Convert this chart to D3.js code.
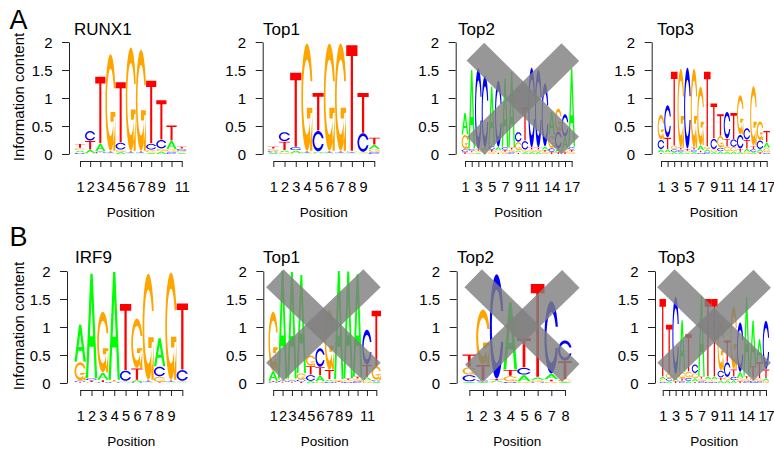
<!DOCTYPE html>
<html>
<head>
<meta charset="utf-8">
<script src="https://cdn.jsdelivr.net/npm/d3@7"></script>
<style>
  html, body { margin: 0; padding: 0; background: #ffffff; }
  svg { display: block; font-family: "Liberation Sans", Arial, Helvetica, sans-serif; }
</style>
</head>
<body>
<svg id="chart" width="774" height="451"></svg>
<script>
// Letter heights in bits for every motif position, columns in the order A, C, G, T.
const bases = ["A", "C", "G", "T"];

const runx1 = [
  [0.03, 0.02, 0.03, 0.07], [0.05, 0.17, 0.01, 0.15], [0.13, 0.02, 0.01, 1.19],
  [0.01, 0.01, 1.72, 0.01], [0.03, 0.12, 0.03, 1.07], [0.01, 0.01, 1.84, 0.01],
  [0.01, 0.01, 1.80, 0.01], [0.02, 0.10, 0.04, 1.12], [0.04, 0.15, 0.04, 0.70],
  [0.14, 0.03, 0.04, 0.27], [0.02, 0.03, 0.02, 0.03]
];
const top1A = [
  [0.02, 0.02, 0.03, 0.03], [0.03, 0.16, 0.02, 0.15], [0.04, 0.05, 0.01, 1.32],
  [0.01, 0.01, 1.91, 0.01], [0.02, 0.36, 0.01, 0.67], [0.01, 0.01, 1.91, 0.01],
  [0.01, 0.01, 1.91, 0.01], [0.01, 0.01, 0.01, 1.88], [0.01, 0.33, 0.01, 0.71],
  [0.07, 0.03, 0.04, 0.12]
];
const top2A = [
  [0.38, 0.04, 0.25, 0.03], [1.40, 0.03, 0.02, 0.02], [0.02, 1.44, 0.02, 0.02],
  [0.04, 1.28, 0.03, 0.02], [1.05, 0.06, 0.03, 0.03], [0.05, 1.18, 0.03, 0.02],
  [1.22, 0.04, 0.03, 0.03], [1.35, 0.03, 0.03, 0.03], [0.03, 0.17, 0.14, 0.02],
  [0.03, 0.15, 0.03, 0.60], [0.03, 1.42, 0.03, 0.03], [0.03, 1.38, 0.03, 0.03],
  [0.05, 1.12, 0.03, 0.03], [0.42, 0.06, 0.22, 0.03], [0.05, 0.30, 0.40, 0.03],
  [0.20, 0.40, 0.05, 0.03], [1.40, 0.04, 0.03, 0.03]
];
const top3A = [
  [0.05, 0.16, 0.44, 0.02], [0.05, 0.57, 0.02, 0.20], [0.03, 0.04, 0.05, 1.32],
  [0.03, 0.03, 1.40, 0.03], [0.02, 1.44, 0.02, 0.03], [0.03, 0.03, 1.40, 0.03],
  [0.08, 0.02, 1.04, 0.03], [0.04, 0.03, 0.04, 1.33], [0.03, 0.18, 0.04, 0.62],
  [0.04, 0.06, 0.20, 0.38], [0.04, 0.47, 0.08, 0.13], [0.04, 0.13, 0.07, 0.46],
  [0.03, 0.24, 0.70, 0.05], [0.05, 0.20, 0.03, 0.15], [0.03, 0.04, 1.06, 0.05],
  [0.04, 0.15, 0.33, 0.03], [0.09, 0.02, 0.07, 0.20]
];
const irf9 = [
  [0.66, 0.02, 0.32, 0.01], [1.86, 0.03, 0.01, 0.02], [0.12, 0.01, 1.08, 0.03],
  [1.92, 0.01, 0.01, 0.01], [0.01, 0.18, 0.01, 1.18], [0.03, 0.01, 0.88, 0.20],
  [0.01, 0.01, 1.89, 0.01], [0.50, 0.17, 0.09, 0.01], [0.01, 0.01, 1.91, 0.01],
  [0.01, 0.19, 0.01, 1.18]
];
const top1B = [
  [0.17, 0.01, 1.05, 0.01], [1.92, 0.02, 0.02, 0.01], [1.90, 0.02, 0.02, 0.01],
  [1.75, 0.03, 0.10, 0.02], [0.03, 0.10, 0.18, 0.15], [0.10, 0.33, 0.02, 0.14],
  [0.03, 0.02, 1.06, 0.16], [1.93, 0.01, 0.02, 0.01], [1.90, 0.02, 0.02, 0.02],
  [1.82, 0.03, 0.03, 0.03], [0.05, 0.62, 0.04, 0.21], [0.02, 0.02, 0.24, 0.98]
];
const top2B = [
  [0.02, 0.11, 0.13, 0.22], [0.02, 0.02, 0.98, 0.26], [0.02, 1.86, 0.01, 0.02],
  [1.20, 0.02, 0.09, 0.10], [0.11, 0.12, 0.02, 0.52], [0.04, 0.01, 0.03, 1.66],
  [0.09, 1.29, 0.02, 0.03], [0.02, 0.36, 0.03, 0.32]
];
const top3B = [
  [0.04, 0.02, 0.03, 1.38], [0.03, 0.04, 0.08, 0.86], [0.04, 1.38, 0.06, 0.03],
  [0.92, 0.03, 0.10, 0.04], [0.03, 0.05, 0.10, 0.66], [0.05, 0.15, 0.08, 0.02],
  [1.44, 0.03, 0.03, 0.03], [0.04, 0.02, 0.03, 1.38], [0.04, 0.02, 0.03, 1.38],
  [0.04, 0.12, 0.88, 0.04], [0.04, 0.26, 0.05, 0.38], [0.04, 0.06, 1.12, 0.12],
  [0.10, 0.88, 0.04, 0.03], [1.40, 0.03, 0.03, 0.04], [0.80, 0.04, 0.04, 0.20],
  [0.40, 0.03, 0.04, 0.28], [0.04, 0.86, 0.03, 0.15]
];

const titles = ["RUNX1", "Top1", "Top2", "Top3", "IRF9", "Top1", "Top2", "Top3"];
const motifs = [runx1, top1A, top2A, top3A, irf9, top1B, top2B, top3B];
const rowLabels = ["A", "B"];
const yTicks = [0, 0.5, 1, 1.5, 2];
const yLabel = "Information content";
const xLabel = "Position";

// Rejected motifs are struck through: two segments per panel, in (position, bits).
const crossLines = [
  null, null,
  [[[2.55, 1.83], [16.78, 0.15]], [[16.8, 1.82], [2.6, 0.145]]],
  null,
  null,
  [[[1.17, 1.87], [11.54, 0.2]], [[11.54, 1.87], [1.17, 0.2]]],
  [[[1.28, 1.87], [8.43, 0.18]], [[8.43, 1.86], [1.33, 0.17]]],
  [[[1.48, 1.87], [16.42, 0.2]], [[16.42, 1.86], [1.5, 0.2]]]
];

// ---- layout ----
const baseColor = { A: "#00ff00", C: "#0000ff", G: "#ffa500", T: "#ff0000" };
const rowGeom = [ { y0: 154, y2: 42 }, { y0: 383, y2: 271 } ];
const panelGeom = [
  { axisX: 69,    left: 74.9,  right: 186.8, titleX: 74 },
  { axisX: 262.7, left: 267.7, right: 379.9, titleX: 263 },
  { axisX: 455.7, left: 461.7, right: 575,   titleX: 458 },
  { axisX: 651.7, left: 657.7, right: 770,   titleX: 657 },
  { axisX: 67,    left: 74.5,  right: 188,   titleX: 75 },
  { axisX: 263.3, left: 268.5, right: 381,   titleX: 263 },
  { axisX: 456.7, left: 462.5, right: 571.8, titleX: 457 },
  { axisX: 655,   left: 659.5, right: 769.2, titleX: 658 }
];
const FONT = '"Liberation Sans", Arial, Helvetica, sans-serif';

// ---- letter outlines in a unit box (x right, y up) ----
function seq(a, b, n) { return d3.range(n).map(i => a + (b - a) * i / (n - 1)); }

function roundLetter() {
  const a1 = seq(0.3 + Math.PI / 2, Math.PI, 100);
  const a2 = seq(Math.PI, 1.5 * Math.PI, 100);
  const xl1 = a1.map(a => 0.5 + 0.5 * Math.sin(a)), yl1 = a1.map(a => 0.5 + 0.5 * Math.cos(a));
  const xl2 = a2.map(a => 0.5 + 0.5 * Math.sin(a)), yl2 = a2.map(a => 0.5 + 0.5 * Math.cos(a));
  const xl = xl1.concat(xl2), yl = yl1.concat(yl2);
  const xo = xl.concat(xl.slice().reverse());
  const yo = yl.concat(yl.slice().reverse().map(v => 1 - v));
  const maxY = d3.max(yl1);
  let xi1 = a1.map(a => 0.5 + 0.35 * Math.sin(a));
  let yi1 = a1.map(a => 0.5 + 0.35 * Math.cos(a));
  const keep = yi1.map(v => v <= maxY);
  xi1 = xi1.filter((_, i) => keep[i]);
  yi1 = yi1.filter((_, i) => keep[i]);
  yi1[0] = maxY;
  const xi2 = a2.map(a => 0.5 + 0.35 * Math.sin(a)), yi2 = a2.map(a => 0.5 + 0.35 * Math.cos(a));
  const xi = xi1.concat(xi2), yi = yi1.concat(yi2);
  const x1 = xi.concat(xi.slice().reverse());
  const y1 = yi.concat(yi.slice().reverse().map(v => 1 - v));
  const x = xo.concat(x1.slice().reverse());
  const y = yo.concat(y1.slice().reverse());
  return { x, y, r1: d3.max(xl1) };
}

const glyphs = (function () {
  const c = roundLetter();
  const cPoly = d3.zip(c.x, c.y);
  const r1 = c.r1, h1 = 0.4;
  const gBar = d3.zip([r1, 0.5, 0.5, r1 - 0.2, r1 - 0.2, r1, r1],
                      [h1, h1, h1 - 0.1, h1 - 0.1, 0, 0, h1]);
  const aOuter = d3.zip([0, 4, 6, 10, 8, 6.8, 3.2, 2, 0].map(v => v / 10),
                        [0, 10, 10, 0, 0, 3, 3, 0, 0].map(v => v / 10));
  const aInner = d3.zip([3.6, 5, 6.4, 3.6].map(v => v / 10),
                        [4, 7.5, 4, 4].map(v => v / 10));
  const tPoly = d3.zip([0, 10, 10, 6, 6, 4, 4, 0].map(v => v / 10),
                       [10, 10, 9, 9, 0, 0, 9, 9].map(v => v / 10));
  return {
    A: [aOuter, aInner],
    C: [cPoly],
    G: [cPoly.slice().reverse(), gBar],
    T: [tPoly]
  };
})();

const svg = d3.select("#chart");

// ---- panel letters and y labels ----
rowLabels.forEach((lab, r) => {
  svg.append("text")
    .attr("x", 9.5).attr("y", r === 0 ? 28.5 : 246)
    .attr("font-family", FONT).attr("font-size", 27).attr("fill", "#000")
    .text(lab);
  const g = rowGeom[r];
  svg.append("text")
    .attr("transform", `translate(24,${(g.y0 + g.y2) / 2 - 1}) rotate(-90)`)
    .attr("text-anchor", "middle")
    .attr("font-family", FONT).attr("font-size", 15).attr("fill", "#000")
    .text(yLabel);
});

// ---- one logo per panel ----
motifs.forEach((motif, p) => {
  const row = p < 4 ? 0 : 1;
  const rg = rowGeom[row];
  const pg = panelGeom[p];
  const n = motif.length;

  const x = d3.scaleLinear().domain([0.5, n + 0.5]).range([pg.left, pg.right]);
  const y = d3.scaleLinear().domain([0, 2]).range([rg.y0, rg.y2]);
  const line = d3.line().x(d => x(d[0])).y(d => y(d[1]));

  const panel = svg.append("g").attr("class", "panel");

  // title
  panel.append("text")
    .attr("x", pg.titleX).attr("y", row === 0 ? 35 : 262.7)
    .attr("font-family", FONT).attr("font-size", 17).attr("fill", "#000")
    .text(titles[p]);

  // stacked letters, smallest at the bottom
  const logo = panel.append("g");
  motif.forEach((heights, j) => {
    const pos = j + 1;
    const order = d3.range(4).sort((a, b) => heights[a] - heights[b]);
    let base = 0;
    order.forEach(k => {
      const ht = heights[k];
      const letter = bases[k];
      if (ht > 0) {
        const d = glyphs[letter].map(poly =>
          line(poly.map(([ux, uy]) => [pos - 0.5 + ux, base + ht * uy])) + "Z"
        ).join("");
        logo.append("path")
          .attr("d", d)
          .attr("fill", baseColor[letter])
          .attr("fill-rule", "evenodd");
      }
      base += ht + 0.01;
    });
  });

  // y axis
  const yAxis = panel.append("g")
    .attr("transform", `translate(${pg.axisX},0)`)
    .call(d3.axisLeft(y).tickValues(yTicks).tickSize(7).tickSizeOuter(0)
      .tickFormat(d => String(d)));
  yAxis.selectAll("text")
    .attr("x", -16.5).attr("dy", "0.36em")
    .attr("font-family", FONT).attr("font-size", 15).attr("fill", "#000");

  // x axis from first to last position
  const xTickScale = d3.scaleLinear().domain([1, n]).range([x(1), x(n)]);
  const xAxis = panel.append("g")
    .attr("transform", `translate(0,${rg.y0 + 7})`)
    .call(d3.axisBottom(xTickScale).tickValues(d3.range(1, n + 1)).tickSize(6)
      .tickSizeOuter(0).tickFormat(d => String(d)));
  xAxis.selectAll("text")
    .attr("y", 30.5).attr("dy", null)
    .attr("font-family", FONT).attr("font-size", 14.5).attr("fill", "#000");

  // drop labels that would collide with the previous one drawn
  let lastRight = -Infinity;
  xAxis.selectAll(".tick").each(function (d) {
    const t = d3.select(this).select("text");
    const w = t.node().getComputedTextLength();
    const cx = xTickScale(d);
    if (cx - w / 2 >= lastRight) {
      lastRight = cx + w / 2;
    } else {
      t.remove();
    }
  });

  [yAxis, xAxis].forEach(ax => {
    ax.attr("font-family", FONT);
    ax.selectAll("path, line").attr("stroke", "#222").attr("stroke-width", 1);
  });

  // x label
  panel.append("text")
    .attr("x", (pg.left + pg.right) / 2).attr("y", rg.y0 + 63)
    .attr("text-anchor", "middle")
    .attr("font-family", FONT).attr("font-size", 13.5).attr("fill", "#000")
    .text(xLabel);

  // strike-through
  if (crossLines[p]) {
    panel.append("g").selectAll("path")
      .data(crossLines[p])
      .join("path")
      .attr("d", d => line(d))
      .attr("fill", "none")
      .attr("stroke", "rgba(128,128,128,0.82)")
      .attr("stroke-width", 25)
      .attr("stroke-linecap", "butt");
  }
});
</script>
</body>
</html>
